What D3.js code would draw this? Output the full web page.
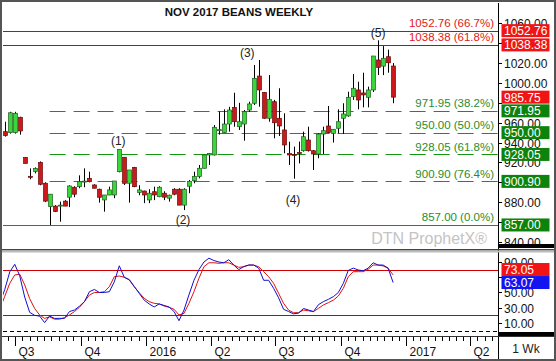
<!DOCTYPE html>
<html><head><meta charset="utf-8">
<script src="https://cdn.jsdelivr.net/npm/d3@7"></script>
<style>body{margin:0;background:#fff}svg{display:block}text{font-family:"Liberation Sans",Arial,sans-serif}</style>
</head><body><svg id="c" width="556" height="361"></svg>
<script>
const title = "NOV 2017 BEANS WEEKLY";
const firstWeek = "2015-06-16T12:00:00";
const opens  = [951,950,950,965.5,925,906,911,920,899,875.5,876,876,881,885,895,895.6,900.6,904,897.3,893,882.2,887.2,887.2,910.7,925.2,899,915,889.6,891.2,882.2,890.5,885.5,889,884,893,893,877,896,901.6,905.7,914.1,927.5,927.5,952,950,958.7,975.5,956,958.7,972.8,979.6,1007,990.6,964.5,981.2,964.5,952.7,929,928,930,931.8,942.6,931.8,928.5,948.6,956.7,949.3,954.4,964.5,966.8,986.2,993,990,985.6,993,1023.2,1017,1026.5,1017.1];
const highs  = [961,971,971,966,925.5,914,915,921,900,888,877,880.5,882,897,896,907,914,910.7,898,893.5,887.2,895.6,901.3,933.2,925.5,912.4,915.5,897,891.5,893,895.6,896,891,887.5,894,894,894,902.3,910.7,917.4,927.5,929.5,957.7,971.3,973.5,976,990.2,980,972.8,981.2,1018.1,1023.2,991,1008,983,994.7,969.5,940.9,935.9,941,951,956,932.5,949.4,956,976.8,953.4,973.5,979.6,991.2,1009,1001.3,1010.4,996.3,1027.2,1043,1037.2,1033.6,1020.1];
const lows   = [946,949,949,948,919,903,909,897,880,857,870,860.3,876,875,885,894,895,900,894,879.5,870.4,887,884,910,897.3,879.5,895,887,879,879,882,885,882,880.5,887,877,872,889,899,904,914,917.4,927,948,949.7,951,956,952.7,941.9,971,977.8,976.1,964,961,944.3,946.6,929.2,917.4,903.6,919,930.9,931,912.4,924.2,928.5,949.6,940,949.3,948.6,966,983,973.5,975.5,975.5,991,1008,1008,1010.4,979.6];
const closes = [947,970,969.5,951.7,919,905,914,898,881,888,870.5,877,876,896.3,888,900.6,901.2,900.6,894,884.9,887.2,892.3,901.3,933.2,899,912.4,895.6,892.3,887.2,889,887.2,895,885,887,888,877,893,901,906,914.1,927.5,929,955.4,953,958.7,972.8,961,961,971.1,978.9,1004.7,993,964.5,983.6,960,956.7,937.6,927.5,927.5,929.3,945.9,931.8,928.5,948.6,952,950,953.4,961,968.8,985.6,994.7,982.9,988,993,1027.2,1015.8,1024.9,1020.4,985.75];
// stochastics start one week before the first candle
const stochK = [36,54,77,87,72,44,24,20,19,10.5,19,16,16,16,25,27,32,38,51,54,50,50,51,64,85,70,67,58,49,40,35,31,35,33,31,25,13,27,47,66,80,90,95,92,90,89,93,86,80,84,86,86,82,66,66,55.5,43,28,25,22,23,29,27,25,34,38,41,44.5,50,62,79,82,79.5,78.6,82,89,86,86,82,63.07];
const stochD = [28,45,62,73,74,60,42,29,20.5,16,18,15,15,17,20.5,25,30.6,38,46.7,50,50,51,57.6,70.7,71.6,70,66.4,57.6,49.7,42.4,38,35.8,35,32.3,30.6,28,20.5,22.7,35.8,51,68.6,83.8,89,89,88.3,89,89,86,83,83.8,86,86,83.8,77.3,70.7,62,49,35.8,27,23.5,23.5,27,26,24.8,29.2,33.6,36.7,40,45.4,55.5,70.7,77.3,77.3,77.3,80.4,86,86,84.8,81.7,73.05];
const priceTicks = [840,860,880,900,920,940,960,980,1000,1020,1040,1060];
const stochTicks = [10,30,50,70,90];
const stochBands = [80,20];
const extLevels = [1052.76,1038.38];
const extPct = ["66.7%","61.8%"];
const fibLevels = [971.95,950.00,928.05,900.90];
const fibPct = ["38.2%","50.0%","61.8%","76.4%"];
const baseLevel = 857.00, basePct = "0.0%";
const fibStartIndex = 9;
const lastPrice = 985.75;
const lastK = 63.07, lastD = 73.05;
const quarterStarts = ["2015-04-01","2015-07-01","2015-10-01","2016-01-01","2016-04-01","2016-07-01","2016-10-01","2017-01-01","2017-04-01","2017-07-01"];
const quarterLabels = ["","Q3","Q4","2016","Q2","Q3","Q4","2017","Q2",""];
const waveText = ["(1)","(2)","(3)","(4)","(5)"];
const waveIdx = [22.8,35.8,48.7,57.9,75];
const wavePrice = [941.6,863,1031.2,882.2,1050.4];
const periodLabel = "1 Wk";
const watermark = "DTN ProphetX\u00ae";

const svg = d3.select("#c");
const L = 3, R = 498, T = 3, B = 248, ST = 253, SB = 334;
const DAY = 864e5;
const wk0 = new Date(firstWeek);
const candles = opens.map((o,i)=>({d:new Date(+wk0 + i*7*DAY), o, h:highs[i], l:lows[i], c:closes[i]}));
const stochDates = stochK.map((_,i)=>new Date(+wk0 + (i-1)*7*DAY));

const x = d3.scaleTime().domain([new Date("2015-06-14T00:00:00"), new Date("2017-05-10T00:00:00")]).range([L, R]);
const y = d3.scaleLinear().domain([833.8, 1080.6]).range([B, T]);
const ys = d3.scaleLinear().domain([0, 90]).range([330.6, 262]);
const xi = i => x(new Date(+wk0 + i*7*DAY));

svg.append("rect").attr("width",556).attr("height",361).attr("fill","#fff");
const defs = svg.append("defs");
defs.append("clipPath").attr("id","cm").append("rect").attr("x",L).attr("y",T).attr("width",R-L).attr("height",B-T);
defs.append("clipPath").attr("id","cs").append("rect").attr("x",L).attr("y",ST).attr("width",R-L).attr("height",SB-ST);

const red = "#e01818", green = "#2a8c2a";
const lineRed = "#e00000", lineGreen = "#129612";
const gm = svg.append("g").attr("clip-path","url(#cm)");
const cy = v => Math.round(y(v))+0.5;
// levels
extLevels.forEach(v=>gm.append("line").attr("x1",L).attr("x2",R).attr("y1",cy(v)).attr("y2",cy(v)).attr("stroke",lineRed).attr("stroke-width",1));
fibLevels.forEach(v=>gm.append("line").attr("x1",xi(fibStartIndex)).attr("x2",R).attr("y1",cy(v)).attr("y2",cy(v)).attr("stroke",lineGreen).attr("stroke-width",1).attr("stroke-dasharray","16,8"));
gm.append("line").attr("x1",L).attr("x2",R).attr("y1",cy(baseLevel)).attr("y2",cy(baseLevel)).attr("stroke",lineGreen);

// watermark
gm.append("text").attr("x",487).attr("y",244).attr("text-anchor","end").attr("font-family","'Liberation Mono',monospace").attr("font-size",16).attr("fill","#c4c4c4").text(watermark);

// candles
const cg = gm.append("g");
candles.forEach(c=>{
  const cx = Math.round(x(c.d));
  cg.append("line").attr("x1",cx+0.5).attr("x2",cx+0.5).attr("y1",y(c.h)).attr("y2",y(c.l)).attr("stroke","#000").attr("stroke-width",1);
  const up = c.c >= c.o;
  const top = y(Math.max(c.o,c.c)), bot = y(Math.min(c.o,c.c));
  cg.append("rect").attr("x",cx-1.5).attr("y",top).attr("width",4).attr("height",Math.max(1,bot-top))
    .attr("fill", up ? "#3bd63b" : "#cc1a1a").attr("stroke", up ? "#1e5e1e" : "#6a0a0a").attr("stroke-width",0.7);
});

// level labels
const lf = 11.5;
extLevels.forEach((v,i)=>svg.append("text").attr("x",494).attr("y",y(v)-3.5).attr("text-anchor","end").attr("font-size",lf).attr("fill",red).text(v.toFixed(2)+" ("+extPct[i]+")"));
fibLevels.forEach((v,i)=>svg.append("text").attr("x",494).attr("y",y(v)-3.5).attr("text-anchor","end").attr("font-size",lf).attr("fill",green).text(v.toFixed(2)+" ("+fibPct[i]+")"));
svg.append("text").attr("x",494).attr("y",y(baseLevel)-3.5).attr("text-anchor","end").attr("font-size",lf).attr("fill",green).text(baseLevel.toFixed(2)+" ("+basePct+")");

// wave labels
waveText.forEach((t,i)=>svg.append("text").attr("x",xi(waveIdx[i])).attr("y",y(wavePrice[i])+4.5).attr("text-anchor","middle").attr("font-size",12).attr("fill","#222").text(t));

// title
svg.append("text").attr("x",239).attr("y",16).attr("text-anchor","middle").attr("font-size",11.5).attr("font-weight","bold").attr("fill","#111").text(title);

// stochastic panel
const gs = svg.append("g").attr("clip-path","url(#cs)");
stochBands.forEach(v=>gs.append("line").attr("x1",L).attr("x2",R).attr("y1",Math.round(ys(v))+0.5).attr("y2",Math.round(ys(v))+0.5).attr("stroke","#d00000"));
gs.append("line").attr("x1",L).attr("x2",R).attr("y1",Math.round(ys(0))+0.5).attr("y2",Math.round(ys(0))+0.5).attr("stroke","#000").attr("stroke-dasharray","4,3");
const ln = d3.line().x((d,i)=>x(stochDates[i])).y(d=>ys(d));
gs.append("path").datum(stochD).attr("d",ln).attr("fill","none").attr("stroke","#e01010").attr("stroke-width",1);
gs.append("path").datum(stochK).attr("d",ln).attr("fill","none").attr("stroke","#1010d0").attr("stroke-width",1);

// value boxes (price scale and stochastic scale)
const priceBoxes = [
  ...extLevels.map(v=>({v, fill:"#f01414"})),
  {v:lastPrice, fill:"#f01414"},
  ...fibLevels.map(v=>({v, fill:"#0d820d"})),
  {v:baseLevel, fill:"#0d820d"}
].map(b=>({...b, yy:y(b.v)}));
const stochBoxes = [{v:lastD, fill:"#f01414"},{v:lastK, fill:"#1414f0"}].map(b=>({...b, yy:ys(b.v)}));
// resolve overlap in stochastic boxes: push upper one up
stochBoxes.sort((a,b)=>a.yy-b.yy);
for (let i=stochBoxes.length-2;i>=0;i--) if (stochBoxes[i+1].yy - stochBoxes[i].yy < 13) stochBoxes[i].yy = stochBoxes[i+1].yy - 13;

const ax = svg.append("g");
function tick(v, scale, boxes){
  const yy = Math.round(scale(v))+0.5;
  ax.append("line").attr("x1",R).attr("x2",R+4).attr("y1",yy).attr("y2",yy).attr("stroke","#000");
  const hidden = boxes.some(b=>Math.abs(b.yy - scale(v)) < 6.5);
  if (!hidden) ax.append("text").attr("x",R+6).attr("y",yy+4.5).attr("font-size",12).attr("fill","#111").text(v.toFixed(2));
}
priceTicks.forEach(v=>tick(v,y,priceBoxes));
stochTicks.forEach(v=>tick(v,ys,stochBoxes));
function box(b){
  ax.append("rect").attr("x",501.5).attr("y",b.yy-6.5).attr("width",48).attr("height",13).attr("fill",b.fill);
  ax.append("text").attr("x",504).attr("y",b.yy+4.5).attr("font-size",12).attr("fill","#fff").text(b.v.toFixed(2));
}
priceBoxes.forEach(box);
stochBoxes.forEach(box);

// frames / separators
svg.append("line").attr("x1",R+0.5).attr("x2",R+0.5).attr("y1",T).attr("y2",361).attr("stroke","#000");
svg.append("rect").attr("x",R).attr("y",244).attr("width",58).attr("height",4).attr("fill","#000");
svg.append("rect").attr("x",0).attr("y",249).attr("width",556).attr("height",1.5).attr("fill","#444");
svg.append("rect").attr("x",0).attr("y",250.5).attr("width",556).attr("height",2).attr("fill","#bbb");
svg.append("rect").attr("x",R).attr("y",332).attr("width",58).attr("height",5).attr("fill","#000");
svg.append("line").attr("x1",0).attr("x2",556).attr("y1",336.5).attr("y2",336.5).attr("stroke","#333");

// time axis
const qs = quarterStarts.map(s=>new Date(s+"T00:00:00"));
const tg = svg.append("g");
const minor = [];
for (let q=0;q<qs.length-1;q++) for (let k=1;k<9;k++) minor.push(new Date(+qs[q] + k*(qs[q+1]-qs[q])/9));
minor.forEach(d=>{ const xx=Math.round(x(d))+0.5; if(xx>L && xx<R) tg.append("line").attr("x1",xx).attr("x2",xx).attr("y1",337).attr("y2",341).attr("stroke","#000"); });
qs.forEach((d,i)=>{
  const xx=Math.round(x(d))+0.5; if(xx<=L||xx>=R) return;
  tg.append("line").attr("x1",xx).attr("x2",xx).attr("y1",337).attr("y2",346).attr("stroke","#000");
  tg.append("text").attr("x",xx+3).attr("y",356).attr("font-size",12).attr("fill","#111").text(quarterLabels[i]);
});
svg.append("text").attr("x",526).attr("y",352.5).attr("text-anchor","middle").attr("font-family","'Liberation Mono',monospace").attr("font-size",12).attr("fill","#222").text(periodLabel);

// outer border
svg.append("rect").attr("x",1).attr("y",1).attr("width",554).attr("height",359).attr("fill","none").attr("stroke","#555").attr("stroke-width",2);
</script></body></html>
